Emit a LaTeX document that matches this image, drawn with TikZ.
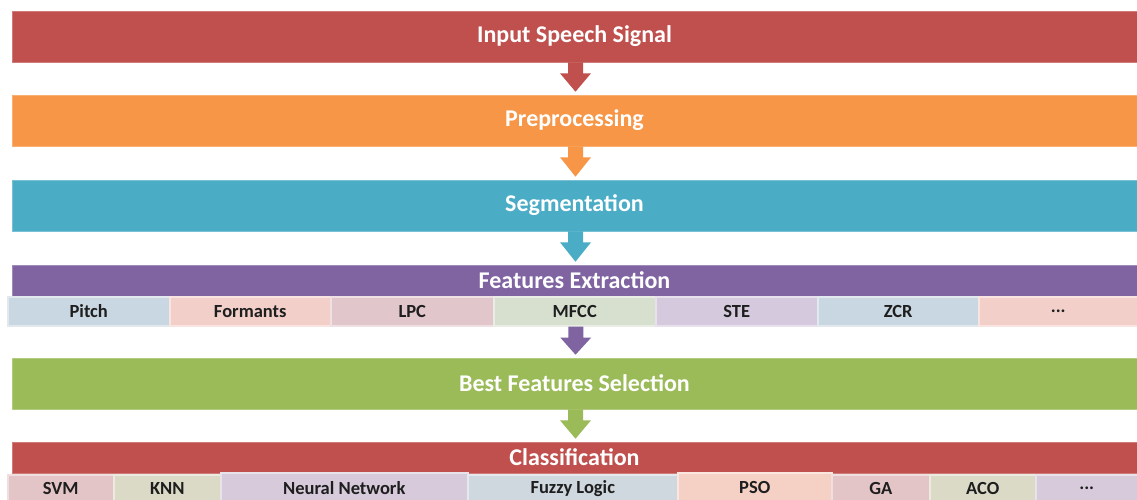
\documentclass[tikz,border=0pt]{standalone}
\usepackage{fontspec}
\setmainfont{Carlito}
\usetikzlibrary{calc}
\definecolor{cred}{HTML}{C0504D}
\definecolor{corange}{HTML}{F79646}
\definecolor{cteal}{HTML}{4BACC6}
\definecolor{cpurple}{HTML}{8064A2}
\definecolor{cgreen}{HTML}{9BBB59}
\definecolor{sblue}{HTML}{C9D7E2}
\definecolor{spink}{HTML}{F2D0C9}
\definecolor{srose}{HTML}{E1C7CC}
\definecolor{sgreen}{HTML}{D7DFCF}
\definecolor{slilac}{HTML}{D5C9DE}
\definecolor{ksvm}{HTML}{E4C5C7}
\definecolor{kknn}{HTML}{DADAC6}
\definecolor{knn}{HTML}{D6CADB}
\definecolor{kfuzzy}{HTML}{CFD7DF}
\definecolor{kpso}{HTML}{F5D0C5}
\definecolor{textdark}{HTML}{1E1E1E}
\tikzset{
  bar/.style={rectangle, inner sep=0pt, minimum width=1125pt, text=white,
    font=\fontsize{24}{26}\selectfont\bfseries, draw=#1!75!white, line width=0.6pt, fill=#1},
  subbox/.style={rectangle, inner sep=0pt, anchor=north west, text=textdark,
    font=\fontsize{18.5}{20}\selectfont\bfseries, fill=#1, draw=#1!55!white, line width=1.5pt},
}
\newcommand{\blockarrow}[3]{%
  \fill[#1] ($(#2.south)+(1,0)+(-7.5,0)$) -- ($(#2.south)+(1,0)+(-7.5,11)$)
    -- ($(#2.south)+(1,0)+(-15.5,11)$) -- ($(#3.north)+(1,-3)$)
    -- ($(#2.south)+(1,0)+(15.5,11)$) -- ($(#2.south)+(1,0)+(7.5,11)$)
    -- ($(#2.south)+(1,0)+(7.5,0)$) -- cycle;}
\begin{document}
\begin{tikzpicture}[x=1pt,y=-1pt]
\useasboundingbox (0,0) rectangle (1137,499);
\fill[white] (0,0) rectangle (1137,499);
% main bars
\node[bar=cred, minimum height=51pt] (input) at (574.5,36.5) {Input Speech Signal};
\node[bar=corange, minimum height=51pt] (pre) at (574.5,120.5) {Preprocessing};
\node[bar=cteal, minimum height=51pt] (seg) at (574.5,205.5) {Segmentation};
\node[bar=cpurple, minimum height=31pt] (feat) at (574.5,280.5) {\raisebox{1.5pt}{Features Extraction}};
\node[bar=cgreen, minimum height=51pt] (best) at (574.5,383.5) {Best Features Selection};
\node[bar=cred, minimum height=31pt] (cls) at (574.5,457.5) {\raisebox{1.5pt}{Classification}};
% feature sub-boxes
\node[subbox=sblue, minimum width=162pt, minimum height=29pt] (pitch) at (7,296) {Pitch};
\node[subbox=spink, minimum width=161pt, minimum height=29pt] (form) at (169,296) {Formants};
\node[subbox=srose, minimum width=163pt, minimum height=29pt] (lpc) at (330,296) {LPC};
\node[subbox=sgreen, minimum width=162pt, minimum height=29pt] (mfcc) at (493,296) {MFCC};
\node[subbox=slilac, minimum width=162pt, minimum height=29pt] (ste) at (655,296) {STE};
\node[subbox=sblue, minimum width=161pt, minimum height=29pt] (zcr) at (817,296) {ZCR};
\node[subbox=spink, minimum width=159pt, minimum height=29pt] (fdots) at (978,296) {...};
% classification sub-boxes
\node[subbox=ksvm, minimum width=106pt, minimum height=28pt] (svm) at (7,474) {SVM};
\node[subbox=kknn, minimum width=107pt, minimum height=28pt] (knn) at (113,474) {KNN};
\node[subbox=knn, minimum width=247pt, minimum height=30pt] (nn) at (220,472) {Neural Network};
\node[subbox=kfuzzy, minimum width=210pt, minimum height=28pt] (fuzzy) at (467,474) {Fuzzy Logic};
\node[subbox=kpso, minimum width=154pt, minimum height=30pt] (pso) at (677,472) {PSO};
\node[subbox=ksvm, minimum width=98pt, minimum height=28pt] (ga) at (831,474) {GA};
\node[subbox=kknn, minimum width=106pt, minimum height=28pt] (aco) at (929,474) {ACO};
\node[subbox=knn, minimum width=102pt, minimum height=28pt] (cdots) at (1035,474) {...};
% arrows
\blockarrow{cred}{input}{pre}
\blockarrow{corange}{pre}{seg}
\blockarrow{cteal}{seg}{feat}
\blockarrow{cpurple}{mfcc}{best}
\blockarrow{cgreen}{best}{cls}
\end{tikzpicture}
\end{document}
